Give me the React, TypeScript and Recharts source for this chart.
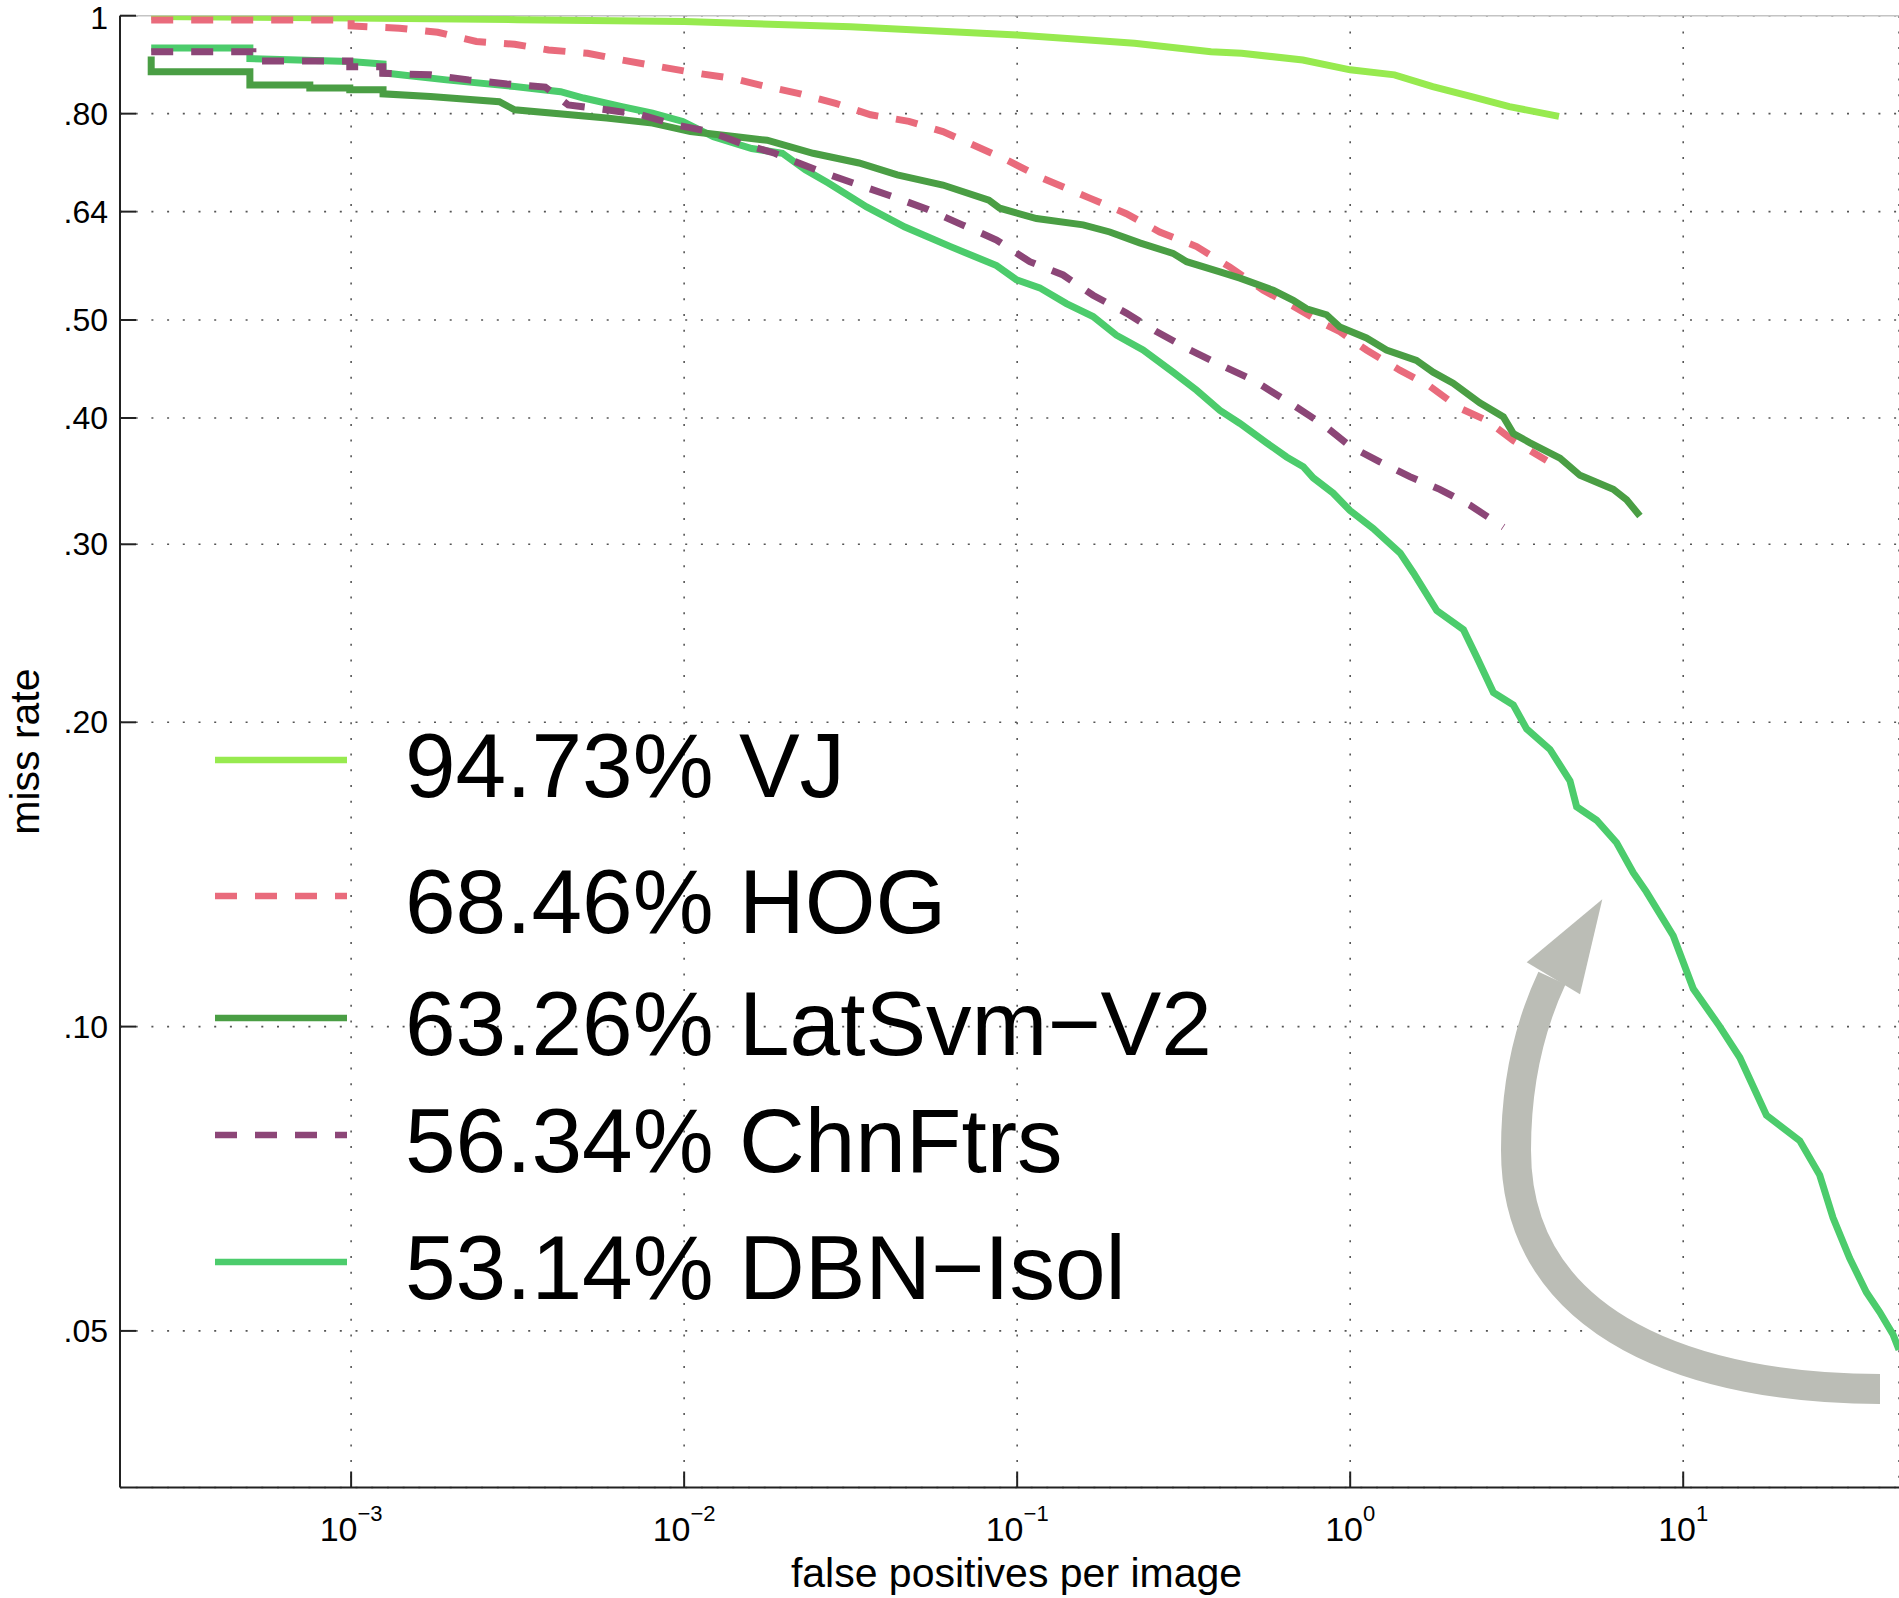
import { LineChart, Line, XAxis, YAxis, CartesianGrid, ReferenceLine, Legend } from 'recharts'

// [false positives per image, miss rate]
const VJ: [number, number][] = [
  [2.51e-4, 0.998], [1.0e-3, 0.995], [3.16e-3, 0.991], [0.01, 0.987], [0.0316, 0.975],
  [0.1, 0.957], [0.164, 0.946], [0.225, 0.939], [0.382, 0.921], [0.472, 0.918],
  [0.721, 0.904], [1.0, 0.884], [1.358, 0.874], [1.77, 0.851], [2.301, 0.832],
  [3.006, 0.813], [4.236, 0.795],
]

const HOG: [number, number][] = [
  [2.51e-4, 0.99], [1.0e-3, 0.99], [1.0e-3, 0.977], [1.396e-3, 0.972], [1.82e-3, 0.963],
  [2.377e-3, 0.943], [3.097e-3, 0.937], [3.917e-3, 0.925], [5.129e-3, 0.918], [6.501e-3, 0.904],
  [8.511e-3, 0.89], [0.01074, 0.878], [0.01396, 0.867], [0.01766, 0.851], [0.02198, 0.838],
  [0.02851, 0.819], [0.03631, 0.798], [0.04732, 0.786], [0.05984, 0.768], [0.07586, 0.742],
  [0.0929, 0.72], [0.1197, 0.69], [0.1652, 0.66], [0.2128, 0.637], [0.2679, 0.611],
  [0.3459, 0.591], [0.4355, 0.564], [0.5483, 0.535], [0.6745, 0.516], [0.811, 0.498],
  [0.9311, 0.487], [1.119, 0.467], [1.409, 0.446], [1.734, 0.43], [2.133, 0.409],
  [2.564, 0.398], [3.09, 0.38], [3.89, 0.363],
]

const LATSVM: [number, number][] = [
  [2.51e-4, 0.911], [2.51e-4, 0.88], [4.966e-4, 0.88], [4.966e-4, 0.854], [7.516e-4, 0.854],
  [7.516e-4, 0.848], [9.908e-4, 0.848], [9.908e-4, 0.845], [1.247e-3, 0.845], [1.247e-3, 0.837],
  [1.73e-3, 0.832], [2.786e-3, 0.822], [3.097e-3, 0.807], [5.848e-3, 0.792], [8.035e-3, 0.783],
  [0.01045, 0.768], [0.01436, 0.759], [0.01774, 0.753], [0.02438, 0.731], [0.0335, 0.715],
  [0.04365, 0.696], [0.05984, 0.68], [0.08222, 0.657], [0.08872, 0.645], [0.1143, 0.63],
  [0.1578, 0.621], [0.1897, 0.611], [0.2333, 0.596], [0.2938, 0.582], [0.3228, 0.571],
  [0.4064, 0.558], [0.4667, 0.55], [0.5875, 0.535], [0.6745, 0.523], [0.7396, 0.513],
  [0.8492, 0.506], [0.9311, 0.492], [1.119, 0.48], [1.285, 0.467], [1.581, 0.456],
  [1.774, 0.444], [2.037, 0.433], [2.449, 0.414], [2.884, 0.401], [3.09, 0.386],
  [3.467, 0.378], [4.266, 0.365], [4.898, 0.351], [6.166, 0.34], [6.761, 0.332],
  [7.413, 0.32],
]

const CHNFTRS: [number, number][] = [
  [2.51e-4, 0.921], [5.07e-4, 0.921], [5.07e-4, 0.902], [9.908e-4, 0.902], [9.908e-4, 0.89],
  [1.245e-3, 0.89], [1.245e-3, 0.877], [1.73e-3, 0.874], [2.254e-3, 0.864], [2.938e-3, 0.856],
  [3.828e-3, 0.85], [4.487e-3, 0.816], [5.848e-3, 0.807], [7.413e-3, 0.798], [9.419e-3, 0.78],
  [0.01194, 0.768], [0.01476, 0.748], [0.01871, 0.731], [0.02133, 0.718], [0.02636, 0.699],
  [0.0335, 0.68], [0.04246, 0.662], [0.05395, 0.643], [0.06839, 0.621], [0.0867, 0.6],
  [0.1091, 0.571], [0.1374, 0.554], [0.169, 0.529], [0.2128, 0.508], [0.2618, 0.487],
  [0.3304, 0.467], [0.4159, 0.45], [0.5117, 0.436], [0.6592, 0.414], [0.8299, 0.394],
  [1.0, 0.375], [1.227, 0.362], [1.51, 0.35], [1.858, 0.34], [2.286, 0.328], [2.884, 0.312],
]

const DBN: [number, number][] = [
  [2.51e-4, 0.929], [4.966e-4, 0.929], [4.966e-4, 0.907], [9.908e-4, 0.901], [1.247e-3, 0.896],
  [1.247e-3, 0.878], [1.932e-3, 0.864], [3.097e-3, 0.851], [4.256e-3, 0.841], [4.989e-3, 0.829],
  [6.501e-3, 0.813], [8.035e-3, 0.801], [9.908e-3, 0.786], [0.01225, 0.759], [0.01596, 0.739],
  [0.01972, 0.731], [0.02312, 0.704], [0.0271, 0.683], [0.03532, 0.647], [0.04603, 0.618],
  [0.0631, 0.591], [0.0867, 0.566], [0.09954, 0.548], [0.1169, 0.538], [0.1406, 0.519],
  [0.169, 0.504], [0.1986, 0.483], [0.2388, 0.467], [0.2938, 0.444], [0.3459, 0.426],
  [0.4064, 0.407], [0.4667, 0.395], [0.561, 0.378], [0.6442, 0.366], [0.7228, 0.358],
  [0.7745, 0.349], [0.8892, 0.337], [0.998, 0.324], [1.172, 0.311], [1.413, 0.294],
  [1.549, 0.281], [1.82, 0.258], [2.188, 0.247], [2.399, 0.232], [2.692, 0.214],
  [3.09, 0.208], [3.388, 0.197], [3.981, 0.188], [4.571, 0.175], [4.786, 0.165],
  [5.495, 0.16], [6.31, 0.152], [7.079, 0.142], [7.745, 0.136], [9.333, 0.123],
  [10.72, 0.109], [12.88, 0.1], [14.79, 0.0932], [17.78, 0.0817], [22.39, 0.0771],
  [25.7, 0.0713], [28.18, 0.0647], [31.62, 0.059], [35.48, 0.0546], [38.9, 0.0522],
  [42.66, 0.0496], [44.46, 0.0479],
]

const X_TICKS = [0.001, 0.01, 0.1, 1, 10]
const Y_TICKS = [0.05, 0.1, 0.2, 0.3, 0.4, 0.5, 0.64, 0.8, 1]
const X_DOMAIN: [number, number] = [2.023e-4, 44.46]
const Y_DOMAIN: [number, number] = [0.035, 1]

const W = 1899
const H = 1598
const FONT = '"Liberation Sans", Arial, Helvetica, sans-serif'

type Series = { key: string; name: string; points: [number, number][]; color: string; dash?: string }

// legend order
const SERIES: Series[] = [
  { key: 'vj', name: '94.73% VJ', points: VJ, color: '#97ea4f' },
  { key: 'hog', name: '68.46% HOG', points: HOG, color: '#e96b7c', dash: '22 18' },
  { key: 'latsvm', name: '63.26% LatSvm\u2212V2', points: LATSVM, color: '#4a9e44' },
  { key: 'chn', name: '56.34% ChnFtrs', points: CHNFTRS, color: '#8c4677', dash: '22 18' },
  { key: 'dbn', name: '53.14% DBN\u2212Isol', points: DBN, color: '#4ccc6c' },
]

// drawing order (last on top)
const DRAW_ORDER = ['vj', 'hog', 'dbn', 'latsvm', 'chn']

const LEGEND_Y = [760, 896, 1018, 1135, 1262]

const toRows = (pts: [number, number][]) => pts.map(([fppi, mr]) => ({ fppi, mr }))

const fmtY = (v: number) => (v === 1 ? '1' : v.toFixed(2).replace(/^0/, ''))

const YTick = (props: any) => {
  const { x, y, payload } = props
  // the top label sits on the plot edge, keep it inside the page
  const ty = payload.value === 1 ? y + 2.5 : y
  return (
    <g>
      <line x1={x + 12} x2={x + 28} y1={y} y2={y} stroke="#222" strokeWidth={2} />
      <text x={x} y={ty} textAnchor="end" dominantBaseline="central" fontSize={32} fontFamily={FONT} fill="#000">
        {fmtY(payload.value)}
      </text>
    </g>
  )
}

const XTick = (props: any) => {
  const { x, y, payload } = props
  const exp = Math.round(Math.log10(payload.value))
  const axisY = y - 53
  return (
    <g>
      <line x1={x} x2={x} y1={axisY} y2={axisY - 16} stroke="#222" strokeWidth={2} />
      <text x={x} y={y} textAnchor="middle" fontFamily={FONT} fill="#000">
        <tspan fontSize={34}>10</tspan>
        <tspan fontSize={22} dy={-20}>{exp < 0 ? `\u2212${-exp}` : `${exp}`}</tspan>
      </text>
    </g>
  )
}

const renderLegend = () => (
  <svg width={W} height={H} style={{ display: 'block', pointerEvents: 'none' }}>
    {SERIES.map((s, i) => (
      <g key={s.key}>
        <line x1={215} x2={347} y1={LEGEND_Y[i]} y2={LEGEND_Y[i]} stroke={s.color} strokeWidth={6.5} strokeDasharray={s.dash} />
        <text x={405} y={LEGEND_Y[i] + 37} fontSize={91} fontFamily={FONT} fill="#000">
          {s.name}
        </text>
      </g>
    ))}
  </svg>
)

const Arrow = () => (
  <svg width={W} height={H} style={{ position: 'absolute', left: 0, top: 0, pointerEvents: 'none' }}>
    <path
      d="M1880,1389 C1700,1389 1516,1330 1516,1150 C1516,1080 1530,1025 1552,978"
      fill="none"
      stroke="#bbbdb6"
      strokeWidth={30}
    />
    <polygon points="1526.7,962.3 1602.3,899.2 1580,994.2" fill="#bbbdb6" />
  </svg>
)

export default function App() {
  const byKey = Object.fromEntries(SERIES.map((s) => [s.key, s]))
  return (
    <div style={{ position: 'absolute', left: 0, top: 0, width: W, height: H, background: '#fff', fontFamily: FONT }}>
      <LineChart width={W} height={H} margin={{ top: 15.7, right: 0, bottom: 0, left: 0 }}>
        <CartesianGrid stroke="#555" strokeWidth={1.6} strokeDasharray="2 13.7" />
        <ReferenceLine y={1} stroke="#c4c4c4" strokeWidth={1.5} />
        <XAxis
          dataKey="fppi"
          type="number"
          scale="log"
          domain={X_DOMAIN}
          allowDataOverflow
          ticks={X_TICKS}
          height={110.5}
          tickSize={0}
          tickMargin={53}
          tickLine={false}
          axisLine={{ stroke: '#222', strokeWidth: 2 }}
          tick={<XTick />}
          interval={0}
          label={{
            value: 'false positives per image',
            position: 'insideBottom',
            offset: 11,
            dx: 7,
            fontSize: 41,
            fill: '#000',
            fontFamily: FONT,
          }}
        />
        <YAxis
          dataKey="mr"
          type="number"
          scale="log"
          domain={Y_DOMAIN}
          allowDataOverflow
          ticks={Y_TICKS}
          width={120}
          tickSize={0}
          tickMargin={12}
          tickLine={false}
          axisLine={{ stroke: '#222', strokeWidth: 2 }}
          tick={<YTick />}
          interval={0}
          label={{
            value: 'miss rate',
            angle: -90,
            position: 'insideLeft',
            offset: 24,
            fontSize: 41,
            fill: '#000',
            fontFamily: FONT,
            style: { textAnchor: 'middle' },
          }}
        />
        {DRAW_ORDER.map((k) => {
          const s = byKey[k]
          return (
            <Line
              key={s.key}
              name={s.name}
              data={toRows(s.points)}
              dataKey="mr"
              type="linear"
              stroke={s.color}
              strokeWidth={7}
              strokeDasharray={s.dash}
              dot={false}
              activeDot={false}
              isAnimationActive={false}
            />
          )
        })}
        <Legend
          layout="horizontal"
          verticalAlign="middle"
          align="center"
          content={renderLegend}
          wrapperStyle={{ position: 'absolute', left: 0, top: 0, width: W, height: H, margin: 0 }}
        />
      </LineChart>
      <Arrow />
    </div>
  )
}
